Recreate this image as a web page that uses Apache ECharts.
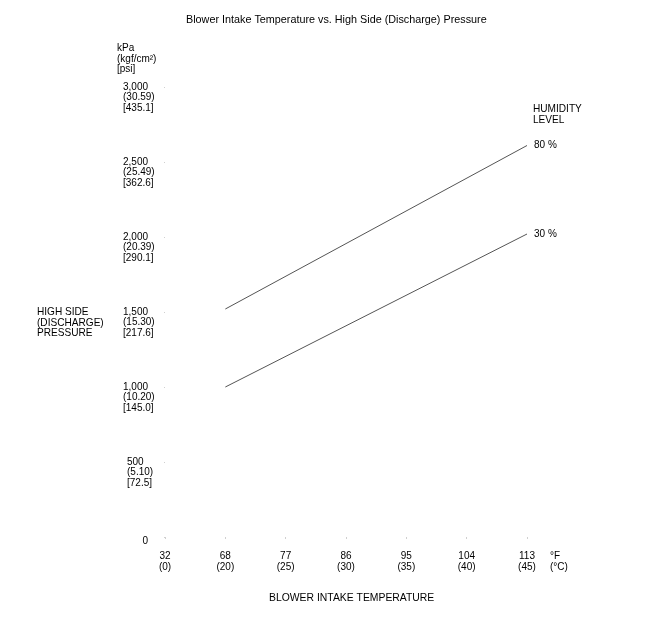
<!DOCTYPE html>
<html><head><meta charset="utf-8">
<script src="https://cdn.jsdelivr.net/npm/echarts@6/dist/echarts.min.js"></script>
<style>html,body{margin:0;padding:0;background:#fff}#c{width:653px;height:618px}</style>
</head><body><div id="c"></div>
<script>
var tempF = ['32', '68', '77', '86', '95', '104', '113'];
var tempC = ['0', '20', '25', '30', '35', '40', '45'];
var kpaTicks = [0, 500, 1000, 1500, 2000, 2500, 3000];
var kpaLabels = ['0', '500', '1,000', '1,500', '2,000', '2,500', '3,000'];
var kgfLabels = ['', '5.10', '10.20', '15.30', '20.39', '25.49', '30.59'];
var psiLabels = ['', '72.5', '145.0', '217.6', '290.1', '362.6', '435.1'];
var humidity80 = [null, 1520, null, null, null, null, 2610];
var humidity30 = [null, 1000, null, null, null, null, 2020];

var FONT = 'Liberation Sans, Arial, sans-serif';
var chart = echarts.init(document.getElementById('c'));
function txt(left, top, text, size) {
  return { text: text, left: left, top: top, padding: 0,
    textStyle: { fontFamily: FONT, fontSize: size || 10, fontWeight: 'normal', color: '#000', lineHeight: 10.5 } };
}
chart.setOption({
  animation: false,
  backgroundColor: '#fff',
  title: [
    txt(186, 15, 'Blower Intake Temperature vs. High Side (Discharge) Pressure', 10.8),
    txt(117, 43, 'kPa\n(kgf/cm\u00B2)\n[psi]'),
    txt(37, 307, 'HIGH SIDE\n(DISCHARGE)\nPRESSURE', 10.1),
    txt(533, 104, 'HUMIDITY\nLEVEL', 10.1),
    txt(269, 593, 'BLOWER INTAKE TEMPERATURE', 10.4)
  ],
  grid: { left: 165, right: 126, top: 87, bottom: 81 },
  xAxis: {
    type: 'category',
    data: tempF,
    boundaryGap: false,
    axisLine: { show: false },
    axisTick: { show: true, length: 2, lineStyle: { color: '#d0d0d0' } },
    splitLine: { show: false },
    name: '\u00B0F\n(\u00B0C)',
    nameLocation: 'end',
    nameGap: 23,
    nameTextStyle: { fontFamily: FONT, fontSize: 10, color: '#000', lineHeight: 10.5, align: 'left', verticalAlign: 'top', padding: [14, 0, 0, 0] },
    axisLabel: {
      margin: 14, fontFamily: FONT, fontSize: 10, color: '#000', lineHeight: 10.5,
      formatter: function (v, i) { return v + '\n(' + tempC[i] + ')'; }
    }
  },
  yAxis: {
    type: 'value', min: 0, max: 3000, interval: 500,
    axisLine: { show: false },
    axisTick: { show: true, length: 1, lineStyle: { color: '#d0d0d0' } },
    splitLine: { show: false },
    axisLabel: {
      margin: 11, fontFamily: FONT, fontSize: 10, color: '#000', align: 'right', verticalAlign: 'middle',
      formatter: function (v) {
        var i = kpaTicks.indexOf(v);
        if (i === 0) return '{z|' + kpaLabels[0] + '}';
        var s = (v === 500) ? 'b' : 'a';
        return '{' + s + '| }\n{' + s + '| }\n{' + s + '|' + kpaLabels[i] + '}\n{' + s + '|(' + kgfLabels[i] + ')}\n{' + s + '|[' + psiLabels[i] + ']}';
      },
      rich: {
        a: { width: 31, align: 'left', fontFamily: FONT, fontSize: 10, color: '#000', lineHeight: 10.5 },
        b: { width: 27, align: 'left', fontFamily: FONT, fontSize: 10, color: '#000', lineHeight: 10.5 },
        z: { width: 31, align: 'right', padding: [8, 6, 0, 0], fontFamily: FONT, fontSize: 10, color: '#000', lineHeight: 10.5 }
      }
    }
  },
  series: [
    { type: 'line', data: humidity80, connectNulls: true, showSymbol: false, silent: true,
      lineStyle: { color: '#555', width: 1 },
      endLabel: { show: true, formatter: '80 %', distance: 7, fontFamily: FONT, fontSize: 10, color: '#000' } },
    { type: 'line', data: humidity30, connectNulls: true, showSymbol: false, silent: true,
      lineStyle: { color: '#555', width: 1 },
      endLabel: { show: true, formatter: '30 %', distance: 7, fontFamily: FONT, fontSize: 10, color: '#000' } }
  ]
});
</script></body></html>
